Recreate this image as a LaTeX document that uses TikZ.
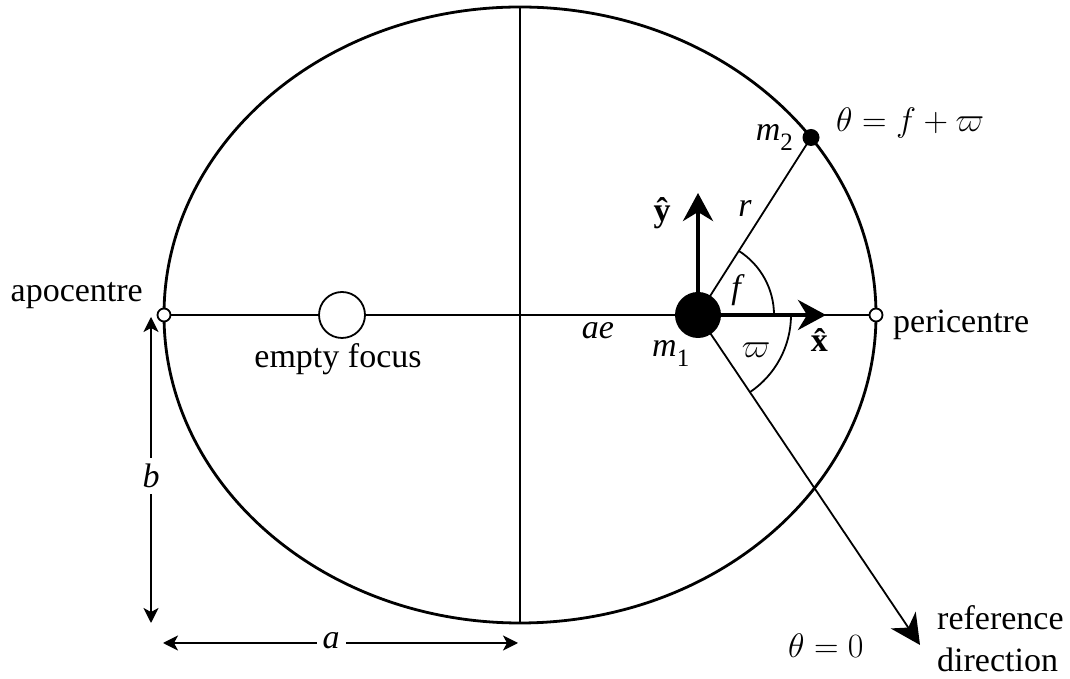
\RequirePackage{fix-cm}
\documentclass[tikz,border=0pt]{standalone}
\usepackage{fontspec}
\setmainfont{LiberationSerif}[Extension=.ttf, UprightFont=*-Regular, BoldFont=*-Bold, ItalicFont=*-Italic, BoldItalicFont=*-BoldItalic]
\usetikzlibrary{arrows.meta}
\newcommand{\subl}[1]{\raisebox{-0.28em}{\fontsize{25}{25}\selectfont #1}}
\begin{document}
\begin{tikzpicture}[x=1pt,y=1pt,
  lbl/.style={font=\fontsize{34}{42}\selectfont, inner sep=0pt},
  orbit/.style={line width=2.8pt},
  fine/.style={line width=1.8pt},
  unitvec/.style={line width=4pt, -{Stealth[length=28pt,width=30pt,inset=9pt]}},
  refarrow/.style={line width=1.8pt, -{Stealth[length=30pt,width=30pt,inset=9pt]}},
  dimarrow/.style={line width=1.8pt, {Stealth[length=15pt,width=15pt,inset=4pt]}-{Stealth[length=15pt,width=15pt,inset=4pt]}},
  smallpt/.style={circle, draw, fill=white, line width=1.8pt, minimum size=13pt, inner sep=0pt},
]
\useasboundingbox (0,0) rectangle (1070,679);
\fill[white] (0,0) rectangle (1070,679);

% coordinates
\coordinate (C) at (520,364);
\coordinate (F) at (698,364);
\coordinate (E) at (342,364);
\coordinate (A) at (164,364);
\coordinate (P) at (876,364);
\coordinate (M2) at (811,541.5);
\coordinate (top) at (520,672);
\coordinate (bot) at (520,56);
\coordinate (xtip) at (826,364);
\coordinate (ytip) at (698,486);
\coordinate (reftip) at (920,34);
\coordinate (b1) at (151,362);
\coordinate (b2) at (151,56);
\coordinate (a1) at (163,36);
\coordinate (a2) at (518,36);

% axes and orbit
\draw[fine] (A) -- (P);
\draw[fine] (top) -- (bot);
\draw[orbit] (C) ellipse[x radius=356, y radius=308];

% radius and reference direction
\draw[fine] (F) -- (M2);
\draw[refarrow] (F) -- (reftip);

% angle arcs
\draw[fine] (F) ++(76,0) arc[start angle=0, end angle=57.5, radius=76];
\draw[fine] (F) ++(93,0) arc[start angle=0, end angle=-56.1, radius=93];

% unit vectors
\draw[unitvec] (F) -- (xtip);
\draw[unitvec] (F) -- (ytip);

% bodies
\node[circle, fill=black, minimum size=46pt, inner sep=0pt] (m1) at (F) {};
\node[circle, draw, fill=white, line width=1.8pt, minimum size=46pt, inner sep=0pt] (ef) at (E) {};
\node[circle, fill=black, minimum size=17pt, inner sep=0pt] (m2) at (M2) {};
\node[smallpt] (apo) at (A) {};
\node[smallpt] (peri) at (P) {};

% dimension arrows
\draw[dimarrow] (b1) -- (b2);
\draw[dimarrow] (a1) -- (a2);
\node[lbl, fill=white, inner sep=6pt] (blab) at (151,203) {\textit{b}};
\node[lbl, fill=white, inner sep=6pt] (alab) at (331,38) {\textit{a}};

% labels
\node[lbl, anchor=base east] (apolab) at (143,377) {apocentre};
\node[lbl, anchor=base west] (perilab) at (893,346) {pericentre};
\node[lbl, anchor=base] (eflab) at (338,311) {empty focus};
\node[lbl, anchor=base] (aelab) at (598,340) {\textit{ae}};
\node[lbl, anchor=base west] (m1lab) at (652,322) {\textit{m}\subl{1}};
\node[lbl, anchor=base east] (m2lab) at (793,538) {\textit{m}\subl{2}};
\node[lbl, anchor=base west] (thlab) at (836,547) {$\theta = f + \varpi$};
\node[lbl, anchor=base] (rlab) at (745,462) {\textit{r}};
\node[lbl] (ylab) at (662,466) {\textbf{\^{y}}};
\node[lbl] (flab) at (738,389) {\textit{f}};
\node[lbl] (wlab) at (756,329) {$\varpi$};
\node[lbl] (xlab) at (822,339) {\textbf{\^{x}}};
\node[lbl, anchor=base west] (th0lab) at (788,21) {$\theta = 0$};
\node[lbl, anchor=base west] (reflab1) at (937,49) {reference};
\node[lbl, anchor=base west] (reflab2) at (937,7) {direction};
\end{tikzpicture}
\end{document}
